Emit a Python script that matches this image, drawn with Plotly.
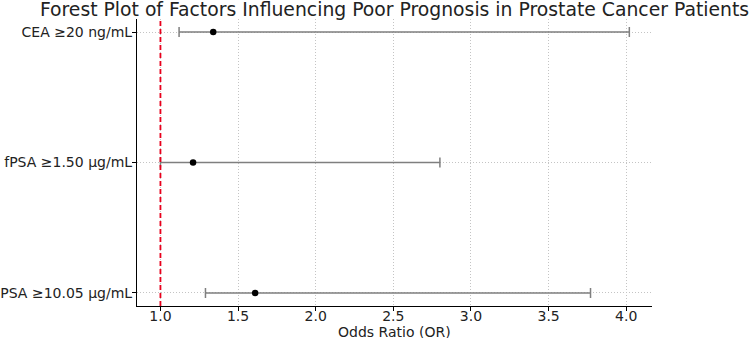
import plotly.graph_objects as go

factors = ["PSA ≥10.05 μg/mL", "fPSA ≥1.50 μg/mL", "CEA ≥20 ng/mL"]
odds_ratio = [1.61, 1.21, 1.34]
ci_lower = [1.29, 1.00, 1.12]
ci_upper = [3.77, 2.80, 4.02]
x_ticks = [1.0, 1.5, 2.0, 2.5, 3.0, 3.5, 4.0]

ypos = list(range(len(factors)))
err_plus = [u - o for u, o in zip(ci_upper, odds_ratio)]
err_minus = [o - l for o, l in zip(odds_ratio, ci_lower)]

FONT = "DejaVu Sans"

fig = go.Figure()
fig.add_trace(go.Scatter(
    x=odds_ratio, y=ypos, mode="markers",
    marker=dict(color="black", size=6.5),
    error_x=dict(type="data", array=err_plus, arrayminus=err_minus,
                 color="#7f7f7f", thickness=1.5, width=5),
    showlegend=False, cliponaxis=False, hoverinfo="skip",
))

fig.add_shape(type="line", xref="x", yref="paper", x0=1.0, x1=1.0, y0=0, y1=1,
              line=dict(color="#e8001c", width=1.8, dash="5px,3px"), layer="above")

fig.update_layout(
    width=752, height=338,
    margin=dict(l=137, r=100, t=19, b=32),
    paper_bgcolor="white", plot_bgcolor="white",
    font=dict(family=FONT, size=14, color="#222"),
    title=dict(text="Forest Plot of Factors Influencing Poor Prognosis in Prostate Cancer Patients",
               x=(137 + 652) / 2 / 752, xanchor="center",
               y=1 - 9.5 / 338, yanchor="middle", yref="container",
               font=dict(family=FONT, size=18.8, color="#222")),
    xaxis=dict(range=[0.849, 4.166], tickvals=x_ticks,
               ticktext=[f"{v:.1f}" for v in x_ticks],
               showline=True, linecolor="black", linewidth=1.2, mirror=False,
               ticks="outside", ticklen=4, tickcolor="black", ticklabelstandoff=-7,
               showgrid=True, gridcolor="#c4c4c4", griddash="1px,2px", gridwidth=0.9,
               zeroline=False, automargin=False),
    yaxis=dict(range=[-0.1, 2.1], tickvals=ypos, ticktext=factors,
               showline=True, linecolor="black", linewidth=1.2,
               ticks="outside", ticklen=4, tickcolor="black", ticklabelstandoff=-3,
               showgrid=True, gridcolor="#c4c4c4", griddash="1px,2px", gridwidth=0.9,
               zeroline=False, automargin=False),
    annotations=[dict(text="Odds Ratio (OR)", xref="paper", yref="paper",
                      x=0.5, y=-(331.5 - 306) / 287, xanchor="center", yanchor="middle",
                      showarrow=False, font=dict(family=FONT, size=14, color="#222"))],
)

fig.write_html("out.html", config={"displayModeBar": False},
               post_script="document.body.style.margin='0';")
